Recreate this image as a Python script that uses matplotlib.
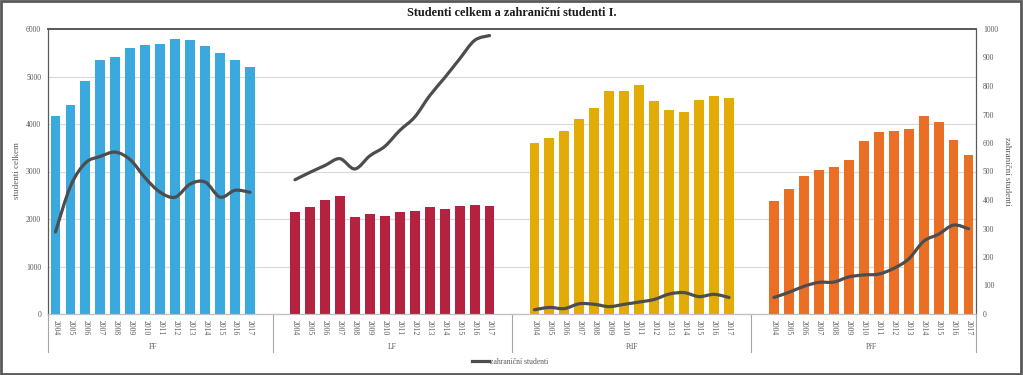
import numpy as np
import matplotlib.pyplot as plt
from matplotlib.path import Path
from matplotlib.patches import PathPatch, Rectangle
from matplotlib.lines import Line2D

plt.rcParams['font.family'] = ['Liberation Serif', 'DejaVu Serif']

years = [str(y) for y in range(2004, 2018)]
faculties = ['FF', 'LF', 'PdF', 'PřF']
colors = ['#3aa9de', '#b5223f', '#e3ab06', '#ea6f25']

# studenti celkem
ff_total = [4160, 4390, 4910, 5345, 5415, 5610, 5655, 5690, 5780, 5765, 5640, 5500, 5355, 5190]
lf_total = [2145, 2250, 2405, 2490, 2040, 2095, 2065, 2145, 2175, 2245, 2215, 2275, 2300, 2280]
pdf_total = [3595, 3705, 3850, 4095, 4335, 4695, 4685, 4815, 4485, 4295, 4260, 4510, 4595, 4545]
prf_total = [2370, 2625, 2905, 3030, 3100, 3250, 3635, 3840, 3850, 3900, 4175, 4035, 3655, 3340]

# zahraniční studenti
ff_foreign = [288, 448, 530, 553, 568, 541, 477, 427, 410, 456, 463, 410, 434, 427]
lf_foreign = [471, 497, 521, 545, 509, 555, 588, 644, 691, 766, 829, 895, 960, 977]
pdf_foreign = [15, 23, 19, 36, 34, 26, 34, 42, 51, 70, 75, 61, 69, 58]
prf_foreign = [58, 76, 97, 111, 112, 130, 137, 140, 160, 193, 255, 280, 312, 299]

totals = [ff_total, lf_total, pdf_total, prf_total]
foreign = [ff_foreign, lf_foreign, pdf_foreign, prf_foreign]

# category positions: each group has 14 years, blank slots between groups
starts = [0, 16, 32, 48]
bounds = [-0.5, 14.5, 30.5, 46.5, 61.5]


def smooth_path(xs, ys):
    # Excel-like smoothed line as cubic Bezier through the data points
    pts = np.column_stack([xs, ys]).astype(float)
    n = len(pts)
    verts = [pts[0]]
    codes = [Path.MOVETO]
    for i in range(n - 1):
        p0 = pts[i - 1] if i > 0 else pts[i]
        p1 = pts[i]
        p2 = pts[i + 1]
        p3 = pts[i + 2] if i + 2 < n else pts[i + 1]
        c1 = p1 + (p2 - p0) / 6
        c2 = p2 - (p3 - p1) / 6
        verts += [c1, c2, p2]
        codes += [Path.CURVE4] * 3
    return Path(verts, codes)


fig = plt.figure(figsize=(10.23, 3.75), dpi=100)
ax = fig.add_axes([48 / 1023, 1 - 314 / 375, 928 / 1023, 285 / 375])
ax2 = ax.twinx()

ticks = []
ticklabels = []
for i in range(4):
    xs = np.arange(14) + starts[i]
    ax.bar(xs, totals[i], width=0.66, color=colors[i], zorder=2)
    ax2.add_patch(PathPatch(smooth_path(xs, foreign[i]), facecolor='none',
                            edgecolor='#4d4d4f', lw=2.3, capstyle='round', zorder=3))
    ticks += list(xs)
    ticklabels += years

ax.set_xlim(bounds[0], bounds[-1])
ax.set_ylim(0, 6000)
ax2.set_ylim(0, 1000)
ax.set_yticks(range(0, 6001, 1000))
ax2.set_yticks(range(0, 1001, 100))
ax.yaxis.grid(True, color='#d9d9d9', lw=0.8, zorder=0)
ax.set_axisbelow(True)

ax.set_xticks(ticks)
ax.set_xticklabels(ticklabels, rotation=270, fontsize=5.5, color='#595959')
ax.tick_params(axis='x', length=0, pad=4)
ax.tick_params(axis='y', length=0, labelsize=5.5, labelcolor='#595959', pad=5)
ax2.tick_params(axis='y', length=0, labelsize=5.5, labelcolor='#595959', pad=5)

for a in (ax, ax2):
    a.spines['top'].set_color('#595959')
    a.spines['left'].set_color('#595959')
    a.spines['right'].set_color('#595959')
    a.spines['bottom'].set_color('#bfbfbf')
    a.spines['top'].set_linewidth(1.2)

# group separators and labels below the axis
trans = ax.get_xaxis_transform()
for b in bounds:
    ax.plot([b, b], [0, -38 / 285], transform=trans, color='#a6a6a6', lw=0.8, clip_on=False)
for i in range(4):
    ax.text(starts[i] + 6.5, -33 / 285, faculties[i], transform=trans, ha='center', va='center',
            fontsize=5.5, color='#595959')

fig.text(17 / 1023, 1 - 171 / 375, 'studenti celkem', rotation=90, ha='center', va='center',
         fontsize=6.5, color='#595959')
fig.text(1007 / 1023, 1 - 171 / 375, 'zahraniční studenti', rotation=270, ha='center', va='center',
         fontsize=6.5, color='#595959')
fig.text(0.5, 1 - 13 / 375, 'Studenti celkem a zahraniční studenti I.', ha='center', va='center',
         fontsize=8.8, fontweight='bold', color='#1a1a1a')

handle = Line2D([], [], color='#4d4d4f', lw=2.3)
fig.legend([handle], ['zahraniční studenti'], loc='center', bbox_to_anchor=(510 / 1023, 1 - 362 / 375),
           frameon=False, fontsize=5.5, handlelength=2.2, handletextpad=0.2, labelcolor='#595959')

fig.patches.append(Rectangle((0.001, 0.002), 0.997, 0.995, transform=fig.transFigure,
                             fill=False, edgecolor='#595959', lw=2))

fig.savefig('out.png', dpi=100)
